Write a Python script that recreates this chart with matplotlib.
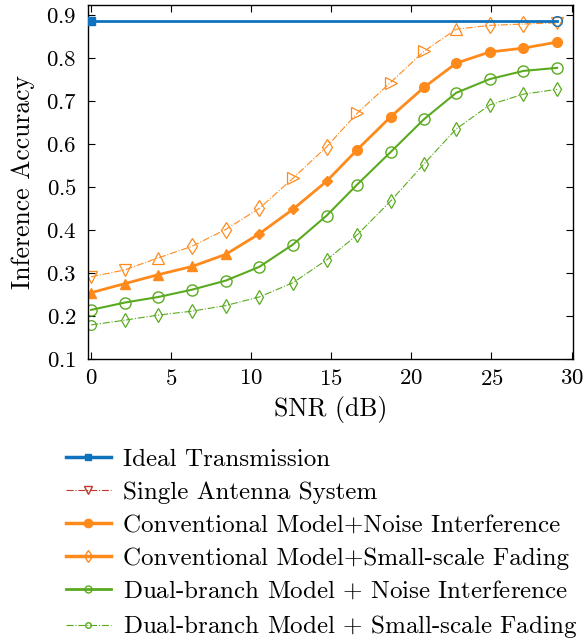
import numpy as np
import matplotlib
matplotlib.use('Agg')
import matplotlib.pyplot as plt
from matplotlib.lines import Line2D

plt.rcParams['font.family'] = 'serif'
plt.rcParams['font.serif'] = ['cmr10', 'DejaVu Serif']
plt.rcParams['mathtext.fontset'] = 'cm'
plt.rcParams['axes.formatter.use_mathtext'] = True
plt.rcParams['axes.unicode_minus'] = False

# SNR points (dB)
snr = [0, 2.1, 4.2, 6.3, 8.4, 10.5, 12.6, 14.7, 16.6, 18.7, 20.8, 22.8, 24.9, 27.0, 29.1]

ideal = [0.887] * 15
single_antenna = [0.291, 0.307, 0.335, 0.362, 0.401, 0.450, 0.520, 0.593,
                  0.671, 0.743, 0.816, 0.867, 0.876, 0.879, 0.882]
conv_noise = [0.254, 0.275, 0.296, 0.315, 0.343, 0.391, 0.448, 0.513,
              0.586, 0.663, 0.732, 0.788, 0.814, 0.823, 0.837]
dual_noise = [0.214, 0.231, 0.244, 0.261, 0.282, 0.314, 0.366, 0.433,
              0.505, 0.581, 0.658, 0.719, 0.751, 0.770, 0.777]
dual_fading = [0.179, 0.190, 0.202, 0.211, 0.224, 0.244, 0.277, 0.330,
               0.388, 0.467, 0.554, 0.635, 0.691, 0.716, 0.727]

# marker shapes as they appear along each curve
single_marks = ['v', 'v', '^', 'd', 'd', 'd', '>', 'd', '>', '>', '>', '^', 'd', 'd', 'v']
conv_marks = ['^', '^', '^', '^', '^', 'D', 'D', 'D', 'o', 'o', 'o', 'o', 'o', 'o', 'o']
dual_f_marks = ['o'] + ['d'] * 14

labels = ['Ideal Transmission',
          'Single Antenna System',
          'Conventional Model+Noise Interference',
          'Conventional Model+Small-scale Fading',
          'Dual-branch Model $+$ Noise Interference',
          'Dual-branch Model $+$ Small-scale Fading']

blue = '#0f72bd'
orange = '#ff8a1c'
green = '#5aaa1f'
red = '#c0392b'

fig = plt.figure(figsize=(5.86, 6.42), dpi=100)
ax = fig.add_axes([0.150, 0.441, 0.828, 0.551])

ax.plot(snr, ideal, '-', color=blue, lw=2.0, zorder=5)
ax.plot(snr[0], ideal[0], 's', color=blue, ms=6, zorder=6)
ax.plot(snr[-1], ideal[-1], 'o', mfc='none', mec=blue, ms=7, zorder=6)

ax.plot(snr, single_antenna, '-.', color=orange, lw=0.8)
for x, y, m in zip(snr, single_antenna, single_marks):
    ax.plot(x, y, m, mfc='none', mec=orange, ms=8, mew=0.9)

ax.plot(snr, conv_noise, '-', color=orange, lw=2.0)
for x, y, m in zip(snr, conv_noise, conv_marks):
    ax.plot(x, y, m, color=orange, ms=7 if m != 'D' else 5)

ax.plot(snr, dual_noise, '-', color=green, lw=1.5, marker='o', mfc='none',
        mec=green, ms=8, mew=1.0)

ax.plot(snr, dual_fading, '-.', color=green, lw=0.8)
for x, y, m in zip(snr, dual_fading, dual_f_marks):
    ax.plot(x, y, m, mfc='none', mec=green, ms=7, mew=0.9)

ax.set_xlim(-0.2, 30.1)
ax.set_ylim(0.1, 0.923)
ax.set_xticks([0, 5, 10, 15, 20, 25, 30])
ax.set_yticks([0.1, 0.2, 0.3, 0.4, 0.5, 0.6, 0.7, 0.8, 0.9])
ax.tick_params(direction='in', top=True, right=True, length=5, width=0.8, labelsize=16.5)
ax.tick_params(axis='y', pad=8)
ax.tick_params(axis='x', pad=7)
for s in ax.spines.values():
    s.set_linewidth(1.0)
ax.set_xlabel('SNR (dB)', fontsize=18.5, labelpad=5)
ax.set_ylabel('Inference Accuracy', fontsize=18.5, labelpad=8)

handles = [
    Line2D([], [], color=blue, lw=2.5, marker='s', ms=5),
    Line2D([], [], color=red, lw=0.8, ls='-.', marker='v', mfc='none', mec=red, ms=6),
    Line2D([], [], color=orange, lw=2.5, marker='o', ms=6),
    Line2D([], [], color=orange, lw=2.5, marker='d', mfc='none', mec=orange, ms=6),
    Line2D([], [], color=green, lw=2.0, marker='o', mfc='none', mec=green, ms=5),
    Line2D([], [], color=green, lw=0.8, ls='-.', marker='o', mfc='none', mec=green, ms=4),
]
fig.legend(handles, labels, loc='upper left', bbox_to_anchor=(0.112, 0.302),
           frameon=False, fontsize=18, handlelength=1.8, handletextpad=0.5,
           labelspacing=0.42, borderaxespad=0, borderpad=0)

fig.savefig('out.png', dpi=100)
